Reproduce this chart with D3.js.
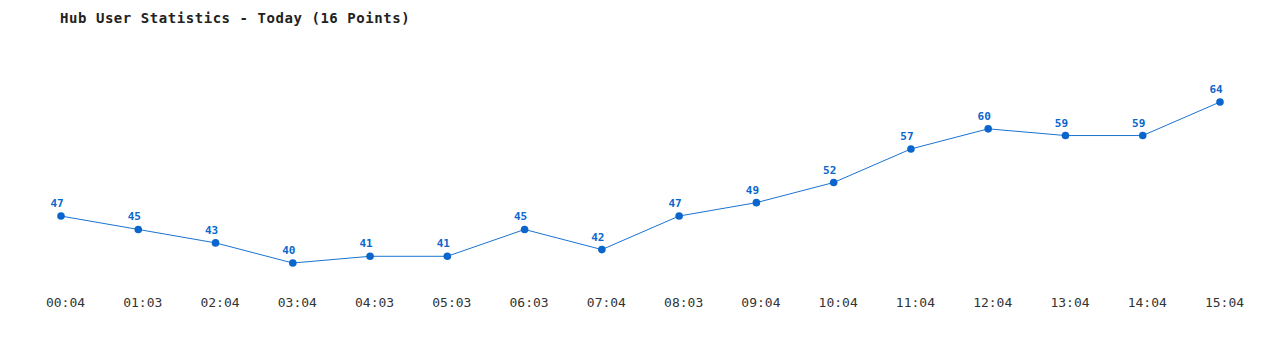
<!DOCTYPE html>
<html><head><meta charset="utf-8">
<script src="https://cdn.jsdelivr.net/npm/d3@7"></script>
<style>body{margin:0;background:#fff;}svg{display:block;}</style>
</head><body>
<script>
const categories = ["00:04","01:03","02:04","03:04","04:03","05:03","06:03","07:04","08:03","09:04","10:04","11:04","12:04","13:04","14:04","15:04"];
const values = [47,45,43,40,41,41,45,42,47,49,52,57,60,59,59,64];
const title = "Hub User Statistics - Today (16 Points)";

const W = 1280, H = 350;
const svg = d3.select("body").append("svg").attr("width", W).attr("height", H);

const x = d3.scalePoint().domain(categories).range([61, 1220]);
const y = d3.scaleLinear().domain([40, 64]).range([263, 102]);

svg.append("text").attr("x", 60).attr("y", 23)
  .attr("font-family", "DejaVu Sans Mono").attr("font-size", 14).attr("font-weight", "bold")
  .attr("letter-spacing", 0.55).attr("fill", "#222").text(title);

const xAxis = d3.axisBottom(x).tickSize(0).tickPadding(0);
const gx = svg.append("g").attr("transform", "translate(4,298)").call(xAxis);
gx.select(".domain").remove();
gx.selectAll("text").attr("font-family", "DejaVu Sans Mono").attr("font-size", 13)
  .attr("fill", "#333").attr("dy", "0.71em");

const line = d3.line().x((d, i) => x(categories[i])).y(d => y(d));
svg.append("path").datum(values).attr("d", line)
  .attr("fill", "none").attr("stroke", "#1a73d0").attr("stroke-width", 1);

svg.selectAll("circle.pt").data(values).enter().append("circle")
  .attr("cx", (d, i) => x(categories[i])).attr("cy", d => y(d)).attr("r", 3.8)
  .attr("fill", "#0a66cc");

svg.selectAll("text.lbl").data(values).enter().append("text")
  .attr("x", (d, i) => x(categories[i]) - 4).attr("y", d => y(d) - 9)
  .attr("text-anchor", "middle").attr("font-family", "DejaVu Sans Mono")
  .attr("font-size", 11).attr("font-weight", "bold").attr("fill", "#0a66cc")
  .text(d => d);
</script>
</body></html>
